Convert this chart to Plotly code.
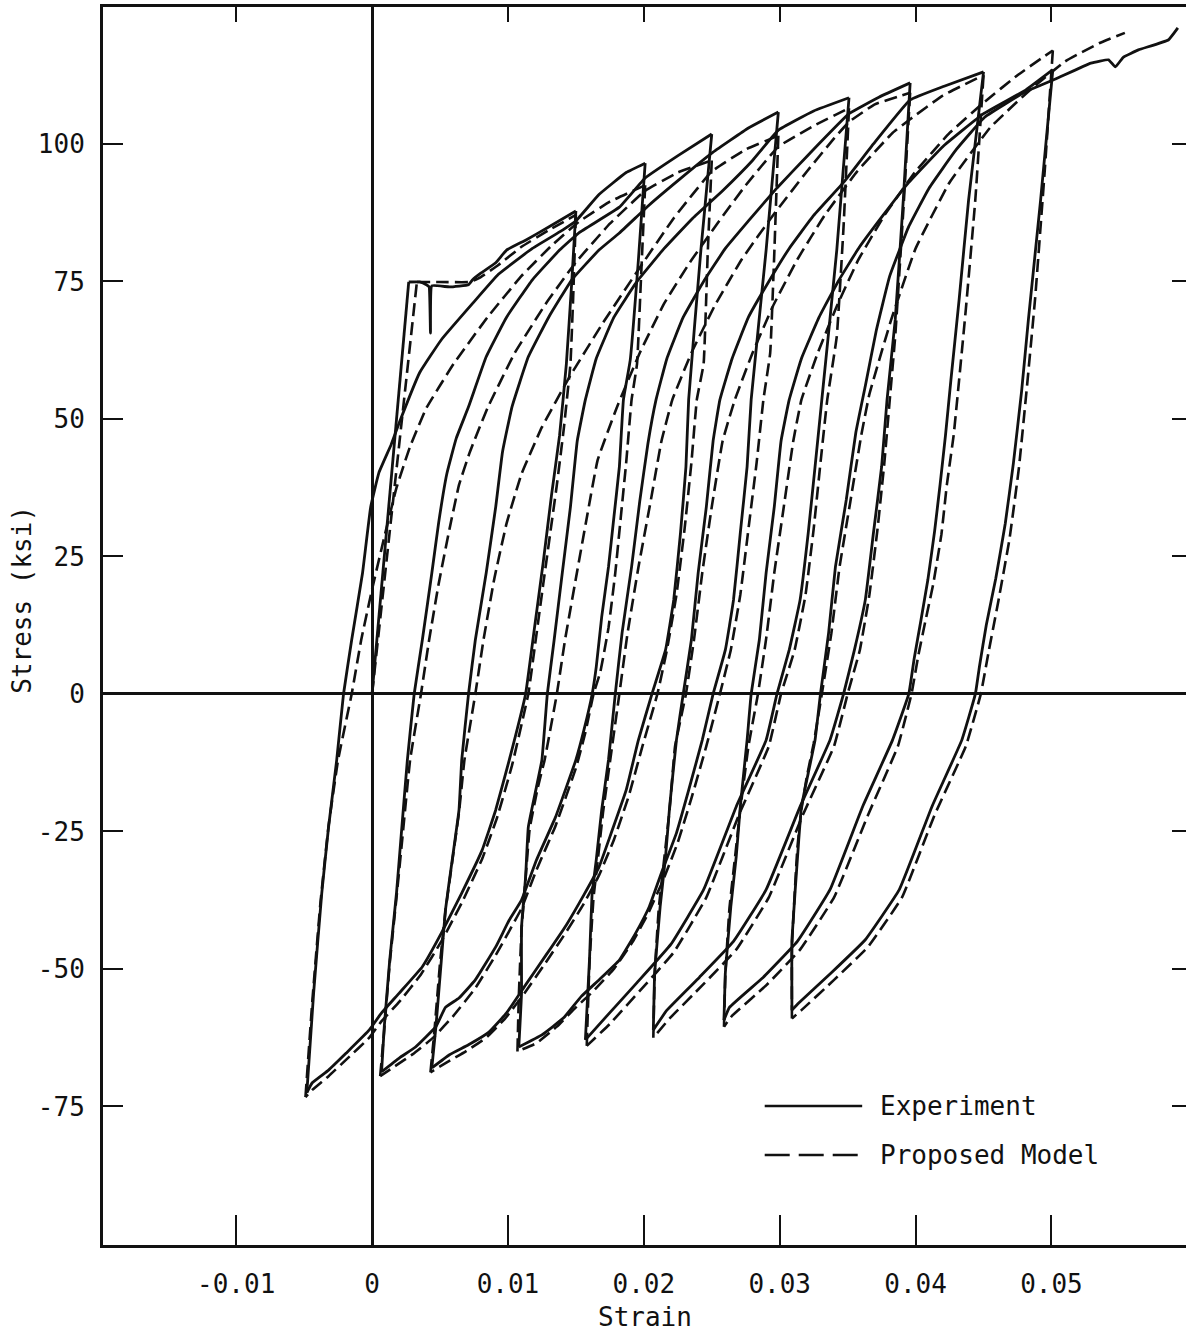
import plotly.graph_objects as go

# ---------------------------------------------------------------------------
# Cyclic stress-strain history of a reinforcing bar: strain (in/in) vs stress (ksi)
# Each branch is a list of (strain, stress) pairs, in loading order.
# ---------------------------------------------------------------------------

# Experiment (solid curve)
exp_elastic = [(0.0, 0.0), (0.0027, 74.9)]
exp_initial = [(0.0027, 74.9), (0.0035, 74.9), (0.0040, 74.4), (0.0042, 74.0),
               (0.0043, 65.6), (0.0044, 74.2), (0.0057, 74.0), (0.0071, 74.4), (0.0074, 75.3),
               (0.0080, 76.5), (0.0091, 78.4), (0.0099, 80.7), (0.0113, 82.5), (0.0130, 84.9),
               (0.0150, 87.8)]
exp_cycle1_unload = [(0.0150, 87.8), (0.0147, 75.0), (0.0143, 60.0), (0.0138, 47.0), (0.0132, 36.0),
                     (0.0126, 24.0), (0.0119, 11.0), (0.0113, 0.0), (0.0101, -12.0), (0.0091, -21.1),
                     (0.0081, -28.4), (0.0066, -36.2), (0.0051, -43.5), (0.0037, -49.6), (0.0020, -54.4),
                     (0.0007, -58.0), (-0.0002, -61.1), (-0.0019, -65.3), (-0.0032, -68.4),
                     (-0.0044, -70.7), (-0.0048, -72.5)]
exp_cycle1_reload = [(-0.0048, -72.5), (-0.0043, -54.4), (-0.0037, -36.2), (-0.0032, -24.2),
                     (-0.0026, -12.0), (-0.0021, 0.0), (-0.0015, 9.8), (-0.0007, 22.0), (-0.0001, 34.0),
                     (0.0005, 40.2), (0.0014, 45.3), (0.0020, 49.3), (0.0035, 58.4), (0.0051, 64.4),
                     (0.0074, 71.0), (0.0093, 76.3), (0.0118, 81.0), (0.0138, 84.0), (0.0150, 86.0),
                     (0.0167, 90.8), (0.0187, 94.8), (0.0201, 96.5)]
exp_cycle2_unload = [(0.0201, 96.5), (0.0196, 78.9), (0.0190, 60.7), (0.0185, 53.5), (0.0182, 41.3),
                     (0.0178, 32.2), (0.0174, 23.1), (0.0169, 14.0), (0.0165, 4.9), (0.0162, 0.0),
                     (0.0156, -6.5), (0.0150, -12.0), (0.0135, -22.4), (0.0121, -30.2), (0.0110, -37.5),
                     (0.0101, -41.1), (0.0091, -46.0), (0.0076, -52.0), (0.0064, -55.3), (0.0054, -57.0),
                     (0.0047, -60.5), (0.0032, -64.2), (0.0020, -66.2), (0.0007, -68.7)]
exp_cycle2_reload = [(0.0007, -68.7), (0.0009, -60.5), (0.0013, -48.4), (0.0018, -36.2), (0.0021, -27.1),
                     (0.0026, -12.0), (0.0031, 0.0), (0.0037, 9.8), (0.0044, 22.0), (0.0049, 31.1),
                     (0.0055, 40.0), (0.0062, 46.5), (0.0071, 52.2), (0.0084, 61.3), (0.0099, 68.5),
                     (0.0118, 75.3), (0.0138, 80.7), (0.0152, 83.8), (0.0182, 88.5), (0.0201, 93.8),
                     (0.0226, 98.0), (0.0250, 101.8)]
exp_cycle3_unload = [(0.0250, 101.8), (0.0242, 80.7), (0.0233, 53.5), (0.0231, 41.3), (0.0227, 29.3),
                     (0.0222, 17.1), (0.0216, 8.0), (0.0206, 0.0), (0.0196, -8.4), (0.0187, -17.5),
                     (0.0176, -25.3), (0.0167, -31.5), (0.0156, -36.5), (0.0143, -42.0), (0.0128, -47.5),
                     (0.0113, -52.9), (0.0099, -58.0), (0.0086, -61.5), (0.0071, -63.8), (0.0057, -65.6),
                     (0.0044, -68.0)]
exp_cycle3_reload = [(0.0044, -68.0), (0.0047, -60.5), (0.0051, -48.4), (0.0054, -39.3), (0.0059, -30.2),
                     (0.0064, -21.1), (0.0066, -12.0), (0.0071, 0.0), (0.0076, 9.8), (0.0084, 22.0),
                     (0.0091, 34.0), (0.0096, 44.0), (0.0103, 52.2), (0.0115, 61.3), (0.0130, 68.5),
                     (0.0147, 75.3), (0.0167, 80.7), (0.0182, 83.8), (0.0204, 88.9), (0.0226, 93.5),
                     (0.0251, 98.5), (0.0277, 102.9), (0.0299, 105.8)]
exp_cycle4_unload = [(0.0299, 105.8), (0.0290, 80.7), (0.0279, 53.5), (0.0276, 41.3), (0.0271, 29.3),
                     (0.0266, 17.1), (0.0260, 8.0), (0.0251, 0.0), (0.0243, -8.4), (0.0233, -17.5),
                     (0.0224, -25.3), (0.0213, -32.5), (0.0204, -38.7), (0.0194, -43.5), (0.0182, -48.4),
                     (0.0167, -52.0), (0.0154, -55.0), (0.0141, -58.9), (0.0125, -62.0), (0.0108, -64.2)]
exp_cycle4_reload = [(0.0108, -64.2), (0.0110, -54.4), (0.0110, -42.4), (0.0113, -33.3), (0.0115, -24.2),
                     (0.0121, -16.9), (0.0125, -12.0), (0.0129, 0.0), (0.0134, 9.8), (0.0140, 22.0),
                     (0.0146, 34.0), (0.0151, 46.0), (0.0157, 53.5), (0.0165, 61.0), (0.0178, 68.5),
                     (0.0195, 75.0), (0.0215, 81.0), (0.0236, 86.5), (0.0258, 91.5), (0.0280, 97.0),
                     (0.0299, 102.5), (0.0325, 106.0), (0.0351, 108.4)]
exp_cycle5_unload = [(0.0351, 108.4), (0.0342, 80.7), (0.0331, 53.5), (0.0326, 41.3), (0.0321, 29.3),
                     (0.0315, 17.1), (0.0307, 8.0), (0.0298, 0.0), (0.0290, -8.4), (0.0268, -20.5),
                     (0.0244, -35.6), (0.0220, -45.5), (0.0195, -52.5), (0.0173, -58.5), (0.0157, -62.9)]
exp_cycle5_reload = [(0.0157, -62.9), (0.0160, -48.4), (0.0162, -36.2), (0.0165, -30.2), (0.0169, -21.1),
                     (0.0174, -12.0), (0.0179, 0.0), (0.0184, 11.1), (0.0191, 23.1), (0.0197, 35.0),
                     (0.0203, 45.5), (0.0209, 53.5), (0.0217, 61.0), (0.0229, 68.5), (0.0244, 75.0),
                     (0.0260, 81.0), (0.0277, 86.0), (0.0298, 92.0), (0.0321, 98.0), (0.0351, 105.5),
                     (0.0373, 108.5), (0.0396, 111.1)]
exp_cycle6_unload = [(0.0396, 111.1), (0.0391, 90.0), (0.0385, 68.0), (0.0379, 53.5), (0.0375, 41.3),
                     (0.0369, 29.3), (0.0363, 17.1), (0.0355, 8.0), (0.0347, 0.0), (0.0337, -8.4),
                     (0.0315, -20.5), (0.0290, -35.6), (0.0266, -45.0), (0.0241, -51.5), (0.0217, -57.5),
                     (0.0207, -61.1)]
exp_cycle6_reload = [(0.0207, -61.1), (0.0208, -50.7), (0.0212, -38.7), (0.0216, -29.6), (0.0219, -20.5),
                     (0.0224, -8.4), (0.0229, 0.0), (0.0235, 9.8), (0.0240, 22.0), (0.0246, 34.0),
                     (0.0251, 46.0), (0.0256, 53.5), (0.0265, 61.0), (0.0277, 68.5), (0.0292, 75.0),
                     (0.0307, 81.0), (0.0325, 87.0), (0.0347, 93.0), (0.0369, 100.0), (0.0396, 108.0),
                     (0.0421, 110.5), (0.0450, 113.1)]
exp_cycle7_unload = [(0.0450, 113.1), (0.0439, 89.8), (0.0432, 71.6), (0.0426, 57.1), (0.0422, 47.0),
                     (0.0418, 38.0), (0.0414, 29.6), (0.0409, 20.7), (0.0404, 13.5), (0.0399, 6.5),
                     (0.0395, 0.0), (0.0383, -8.4), (0.0361, -20.5), (0.0337, -35.6), (0.0313, -45.0),
                     (0.0288, -51.5), (0.0263, -57.0), (0.0259, -59.3)]
exp_cycle7_reload = [(0.0259, -59.3), (0.0260, -50.7), (0.0264, -38.7), (0.0268, -29.6), (0.0271, -20.5),
                     (0.0276, -8.4), (0.0279, 0.0), (0.0285, 9.8), (0.0290, 22.0), (0.0296, 34.0),
                     (0.0301, 46.0), (0.0307, 53.5), (0.0316, 61.0), (0.0329, 68.5), (0.0343, 75.0),
                     (0.0358, 81.0), (0.0376, 87.0), (0.0395, 93.0), (0.0420, 99.5), (0.0450, 105.5),
                     (0.0481, 109.8), (0.0501, 113.5)]
exp_cycle8_unload = [(0.0501, 113.5), (0.0492, 89.8), (0.0483, 68.0), (0.0478, 55.0), (0.0472, 42.0),
                     (0.0466, 31.0), (0.0459, 21.0), (0.0452, 12.5), (0.0447, 5.0), (0.0444, 0.0),
                     (0.0434, -8.4), (0.0412, -20.5), (0.0388, -35.6), (0.0363, -44.7), (0.0338, -50.7),
                     (0.0314, -56.2), (0.0309, -57.5)]
exp_final_reload = [(0.0309, -57.5), (0.0309, -44.7), (0.0314, -26.6), (0.0316, -20.5), (0.0321, -14.4),
                    (0.0326, -8.4), (0.0330, 0.0), (0.0336, 11.1), (0.0341, 23.1), (0.0349, 35.3),
                    (0.0356, 47.5), (0.0363, 56.0), (0.0371, 66.0), (0.0381, 76.0), (0.0395, 85.0),
                    (0.0410, 92.0), (0.0430, 99.0), (0.0451, 104.9), (0.0481, 109.5), (0.0503, 111.8),
                    (0.0529, 114.7), (0.0542, 115.3), (0.0547, 114.0), (0.0553, 115.8), (0.0564, 117.1),
                    (0.0586, 118.9), (0.0593, 121.1)]

# Proposed model (dashed curve)
mod_elastic = [(0.0, 0.0), (0.0033, 74.9)]
mod_initial = [(0.0033, 74.9), (0.0050, 74.9), (0.0072, 74.9), (0.0080, 75.8),
               (0.0093, 78.0), (0.0110, 81.3), (0.0130, 84.3), (0.0150, 87.1)]
mod_cycle1_unload = [(0.0150, 87.1), (0.0148, 72.0), (0.0146, 60.0), (0.0141, 48.0), (0.0136, 38.0),
                     (0.0131, 29.0), (0.0126, 20.0), (0.0120, 9.0), (0.0115, 0.0), (0.0103, -13.0),
                     (0.0092, -22.5), (0.0081, -30.0), (0.0066, -38.0), (0.0051, -45.0), (0.0036, -51.0),
                     (0.0020, -56.0), (0.0007, -59.5), (-0.0002, -62.5), (-0.0019, -66.5),
                     (-0.0032, -69.5), (-0.0044, -72.0), (-0.0049, -73.3)]
mod_cycle1_reload = [(-0.0049, -73.3), (-0.0044, -56.0), (-0.0038, -38.0), (-0.0032, -24.0),
                     (-0.0025, -12.0), (-0.0015, 0.0), (-0.0008, 9.8), (0.0000, 19.0), (0.0009, 28.5),
                     (0.0018, 37.5), (0.0028, 45.0), (0.0040, 52.0), (0.0060, 60.0), (0.0085, 68.5),
                     (0.0110, 76.0), (0.0132, 81.5), (0.0152, 85.8), (0.0175, 89.5), (0.0201, 92.5)]
mod_cycle2_unload = [(0.0201, 92.5), (0.0198, 76.0), (0.0195, 60.0), (0.0191, 53.5), (0.0187, 42.0),
                     (0.0183, 32.0), (0.0179, 22.0), (0.0174, 12.0), (0.0168, 4.0), (0.0163, 0.0),
                     (0.0157, -7.0), (0.0150, -13.5), (0.0135, -24.0), (0.0121, -32.0), (0.0110, -39.0),
                     (0.0091, -47.5), (0.0076, -53.5), (0.0060, -58.5), (0.0045, -62.5), (0.0030, -65.5),
                     (0.0018, -67.5), (0.0006, -69.5)]
mod_cycle2_reload = [(0.0006, -69.5), (0.0009, -61.0), (0.0013, -49.0), (0.0018, -37.0), (0.0022, -27.0),
                     (0.0028, -12.0), (0.0036, 0.0), (0.0042, 9.8), (0.0049, 20.0), (0.0057, 30.0),
                     (0.0064, 38.0), (0.0072, 44.0), (0.0085, 52.0), (0.0105, 62.0), (0.0128, 71.0),
                     (0.0150, 78.5), (0.0175, 85.5), (0.0201, 91.5), (0.0225, 94.8), (0.0250, 97.0)]
mod_cycle3_unload = [(0.0250, 97.0), (0.0247, 80.0), (0.0244, 60.0), (0.0239, 53.5), (0.0235, 42.0),
                     (0.0230, 30.0), (0.0224, 18.0), (0.0217, 8.0), (0.0210, 0.0), (0.0199, -9.5),
                     (0.0189, -18.5), (0.0178, -26.5), (0.0167, -33.0), (0.0155, -38.5), (0.0141, -44.0),
                     (0.0126, -49.5), (0.0112, -54.5), (0.0098, -59.0), (0.0084, -62.5), (0.0069, -65.0),
                     (0.0055, -67.0), (0.0043, -68.8)]
mod_cycle3_reload = [(0.0043, -68.8), (0.0046, -61.0), (0.0050, -49.0), (0.0054, -39.5), (0.0059, -30.5),
                     (0.0064, -21.5), (0.0068, -12.0), (0.0076, 0.0), (0.0082, 9.8), (0.0090, 21.0),
                     (0.0099, 31.0), (0.0110, 40.0), (0.0125, 48.5), (0.0145, 57.5), (0.0170, 67.5),
                     (0.0197, 77.5), (0.0222, 86.5), (0.0250, 95.0), (0.0275, 99.0), (0.0299, 101.5)]
mod_cycle4_unload = [(0.0299, 101.5), (0.0296, 80.0), (0.0293, 62.0), (0.0288, 53.5), (0.0283, 42.0),
                     (0.0277, 30.0), (0.0271, 18.0), (0.0264, 8.0), (0.0256, 0.0), (0.0246, -9.5),
                     (0.0235, -19.0), (0.0225, -27.0), (0.0214, -34.0), (0.0203, -40.0), (0.0192, -45.0),
                     (0.0178, -50.0), (0.0163, -54.0), (0.0150, -57.0), (0.0136, -60.5), (0.0121, -63.5),
                     (0.0107, -65.0)]
mod_cycle4_reload = [(0.0107, -65.0), (0.0108, -55.0), (0.0110, -43.0), (0.0113, -33.5), (0.0116, -24.5),
                     (0.0122, -17.0), (0.0127, -12.0), (0.0136, 0.0), (0.0142, 9.8), (0.0150, 21.0),
                     (0.0158, 32.0), (0.0166, 42.5), (0.0180, 52.0), (0.0197, 62.0), (0.0215, 71.0),
                     (0.0234, 78.5), (0.0254, 85.5), (0.0275, 92.5), (0.0299, 99.5), (0.0325, 103.3),
                     (0.0351, 106.5)]
mod_cycle5_unload = [(0.0351, 106.5), (0.0347, 85.0), (0.0342, 65.0), (0.0335, 53.5), (0.0330, 42.0),
                     (0.0325, 30.0), (0.0319, 18.0), (0.0311, 8.0), (0.0301, 0.0), (0.0292, -9.5),
                     (0.0270, -22.0), (0.0246, -37.0), (0.0222, -47.0), (0.0197, -54.0), (0.0175, -60.0),
                     (0.0158, -64.0)]
mod_cycle5_reload = [(0.0158, -64.0), (0.0160, -49.0), (0.0163, -37.0), (0.0166, -30.5), (0.0170, -21.5),
                     (0.0175, -12.5), (0.0182, 0.0), (0.0188, 11.0), (0.0196, 23.0), (0.0205, 35.0),
                     (0.0213, 46.0), (0.0221, 53.5), (0.0235, 62.0), (0.0252, 70.5), (0.0272, 79.0),
                     (0.0295, 87.0), (0.0320, 95.0), (0.0340, 101.0), (0.0351, 104.0), (0.0370, 107.2),
                     (0.0396, 109.3)]
mod_cycle6_unload = [(0.0396, 109.3), (0.0391, 88.0), (0.0385, 65.0), (0.0381, 53.5), (0.0377, 42.0),
                     (0.0372, 30.0), (0.0366, 18.0), (0.0359, 8.0), (0.0350, 0.0), (0.0340, -9.5),
                     (0.0317, -22.0), (0.0292, -37.0), (0.0268, -46.5), (0.0243, -53.0), (0.0219, -59.0),
                     (0.0207, -62.5)]
mod_cycle6_reload = [(0.0207, -62.5), (0.0208, -51.0), (0.0211, -39.0), (0.0215, -30.0), (0.0219, -21.0),
                     (0.0223, -9.5), (0.0231, 0.0), (0.0237, 10.0), (0.0243, 22.0), (0.0250, 34.0),
                     (0.0258, 46.0), (0.0267, 53.5), (0.0280, 62.0), (0.0295, 70.5), (0.0313, 79.0),
                     (0.0333, 87.0), (0.0357, 95.0), (0.0383, 102.0), (0.0396, 104.5), (0.0420, 108.8),
                     (0.0450, 112.5)]
mod_cycle7_unload = [(0.0450, 112.5), (0.0444, 90.0), (0.0437, 70.0), (0.0432, 57.0), (0.0428, 47.0),
                     (0.0423, 38.0), (0.0419, 29.0), (0.0413, 20.0), (0.0407, 13.0), (0.0402, 7.0),
                     (0.0397, 0.0), (0.0387, -9.5), (0.0365, -22.0), (0.0340, -37.0), (0.0315, -46.5),
                     (0.0290, -53.0), (0.0265, -58.5), (0.0259, -60.5)]
mod_cycle7_reload = [(0.0259, -60.5), (0.0260, -51.0), (0.0263, -39.0), (0.0267, -30.0), (0.0271, -21.0),
                     (0.0277, -9.5), (0.0284, 0.0), (0.0290, 10.0), (0.0296, 22.0), (0.0303, 34.0),
                     (0.0310, 46.0), (0.0316, 53.5), (0.0328, 62.0), (0.0342, 70.5), (0.0358, 79.0),
                     (0.0377, 87.0), (0.0400, 95.0), (0.0425, 102.0), (0.0450, 107.5), (0.0475, 112.5),
                     (0.0501, 117.0)]
mod_cycle8_unload = [(0.0501, 117.0), (0.0495, 95.0), (0.0488, 72.0), (0.0482, 56.0), (0.0476, 41.0),
                     (0.0469, 28.0), (0.0461, 17.0), (0.0454, 8.0), (0.0448, 0.0), (0.0437, -9.5),
                     (0.0414, -22.0), (0.0390, -37.0), (0.0365, -46.0), (0.0340, -52.0), (0.0316, -57.5),
                     (0.0309, -59.0)]
mod_final_reload = [(0.0309, -59.0), (0.0309, -46.0), (0.0313, -28.0), (0.0316, -21.0), (0.0320, -15.0),
                    (0.0325, -9.0), (0.0331, 0.0), (0.0338, 11.0), (0.0344, 23.0), (0.0352, 35.0),
                    (0.0360, 47.0), (0.0366, 54.5), (0.0382, 68.0), (0.0400, 81.0), (0.0425, 93.0),
                    (0.0455, 103.0), (0.0485, 110.0), (0.0510, 115.0), (0.0535, 118.3), (0.0554, 120.2)]

# Axis ticks
x_tick_values = [-0.01, 0.0, 0.01, 0.02, 0.03, 0.04, 0.05]
x_tick_labels = ["-0.01", "0", "0.01", "0.02", "0.03", "0.04", "0.05"]
y_tick_values = [-75, -50, -25, 0, 25, 50, 75, 100]
y_tick_labels = ["-75", "-50", "-25", "0", "25", "50", "75", "100"]
x_range = [-0.0198, 0.0599]
y_range = [-100.2, 124.9]

experiment_branches = [exp_elastic, exp_initial,
                       exp_cycle1_unload, exp_cycle1_reload, exp_cycle2_unload, exp_cycle2_reload,
                       exp_cycle3_unload, exp_cycle3_reload, exp_cycle4_unload, exp_cycle4_reload,
                       exp_cycle5_unload, exp_cycle5_reload, exp_cycle6_unload, exp_cycle6_reload,
                       exp_cycle7_unload, exp_cycle7_reload, exp_cycle8_unload, exp_final_reload]
model_branches = [mod_elastic, mod_initial,
                  mod_cycle1_unload, mod_cycle1_reload, mod_cycle2_unload, mod_cycle2_reload,
                  mod_cycle3_unload, mod_cycle3_reload, mod_cycle4_unload, mod_cycle4_reload,
                  mod_cycle5_unload, mod_cycle5_reload, mod_cycle6_unload, mod_cycle6_reload,
                  mod_cycle7_unload, mod_cycle7_reload, mod_cycle8_unload, mod_final_reload]


def branch_paths(branches):
    """One (strain, stress) path per branch, so every reversal stays a sharp corner."""
    return [([e for e, _ in b], [s for _, s in b]) for b in branches]


FONT = "DejaVu Sans Mono"
INK = "#111111"

fig = go.Figure()
for xs, ys in branch_paths(model_branches):
    fig.add_trace(go.Scatter(x=xs, y=ys, mode="lines", name="Proposed Model",
                             line=dict(color=INK, width=2.6, dash="13px,6px",
                                       shape="spline", smoothing=0.3),
                             showlegend=False, hoverinfo="skip"))
for xs, ys in branch_paths(experiment_branches):
    fig.add_trace(go.Scatter(x=xs, y=ys, mode="lines", name="Experiment",
                             line=dict(color=INK, width=2.8, shape="spline", smoothing=0.3),
                             showlegend=False, hoverinfo="skip"))
# carrier for the mirrored top / right tick axes
fig.add_trace(go.Scatter(x=[None], y=[None], xaxis="x2", yaxis="y2", showlegend=False,
                         hoverinfo="skip"))

tick_font = dict(family=FONT, size=26, color=INK)

fig.update_layout(
    width=1186, height=1336,
    margin=dict(l=103, r=0, t=7, b=91),
    paper_bgcolor="white", plot_bgcolor="white",
    showlegend=False,
    xaxis=dict(range=x_range, tickvals=x_tick_values, ticktext=x_tick_labels,
               ticks="inside", ticklen=30, tickwidth=2, tickcolor=INK,
               showline=True, linecolor=INK, linewidth=3,
               showgrid=False, zeroline=True, zerolinecolor=INK, zerolinewidth=3,
               tickfont=tick_font, ticklabelstandoff=14),
    yaxis=dict(range=y_range, tickvals=y_tick_values, ticktext=y_tick_labels,
               ticks="inside", ticklen=20, tickwidth=2, tickcolor=INK,
               showline=True, linecolor=INK, linewidth=3,
               showgrid=False, zeroline=True, zerolinecolor=INK, zerolinewidth=3,
               tickfont=tick_font, ticklabelstandoff=10),
    xaxis2=dict(range=x_range, tickvals=x_tick_values, overlaying="x", side="top", anchor="y",
                ticks="inside", ticklen=15, tickwidth=2, tickcolor=INK,
                showline=True, linecolor=INK, linewidth=3,
                showticklabels=False, showgrid=False, zeroline=False),
    yaxis2=dict(range=y_range, tickvals=y_tick_values, overlaying="y", side="right", anchor="x",
                ticks="inside", ticklen=14, tickwidth=2, tickcolor=INK,
                showline=False, showticklabels=False, showgrid=False, zeroline=False),
)

# axis titles
fig.add_annotation(text="Strain", xref="paper", yref="paper", x=0.5, y=-0.058,
                   xanchor="center", yanchor="middle", showarrow=False,
                   font=dict(family=FONT, size=26, color=INK))
fig.add_annotation(text="Stress (ksi)", xref="paper", yref="paper", x=-0.075, y=0.521,
                   xanchor="center", yanchor="middle", textangle=-90, showarrow=False,
                   font=dict(family=FONT, size=26, color=INK))

# key in the lower right corner
legend_rows = [("Experiment", None, 0.1123), ("Proposed Model", "25px,9px", 0.0727)]
for label, dash, y_paper in legend_rows:
    fig.add_shape(type="line", xref="paper", yref="paper", x0=0.611, x1=0.701,
                  y0=y_paper, y1=y_paper,
                  line=dict(color=INK, width=2.6, dash=dash if dash else "solid"))
    fig.add_annotation(text=label, xref="paper", yref="paper", x=0.7156, y=y_paper,
                       xanchor="left", yanchor="middle", showarrow=False,
                       font=dict(family=FONT, size=26, color=INK))

fig.write_html("out.html")
